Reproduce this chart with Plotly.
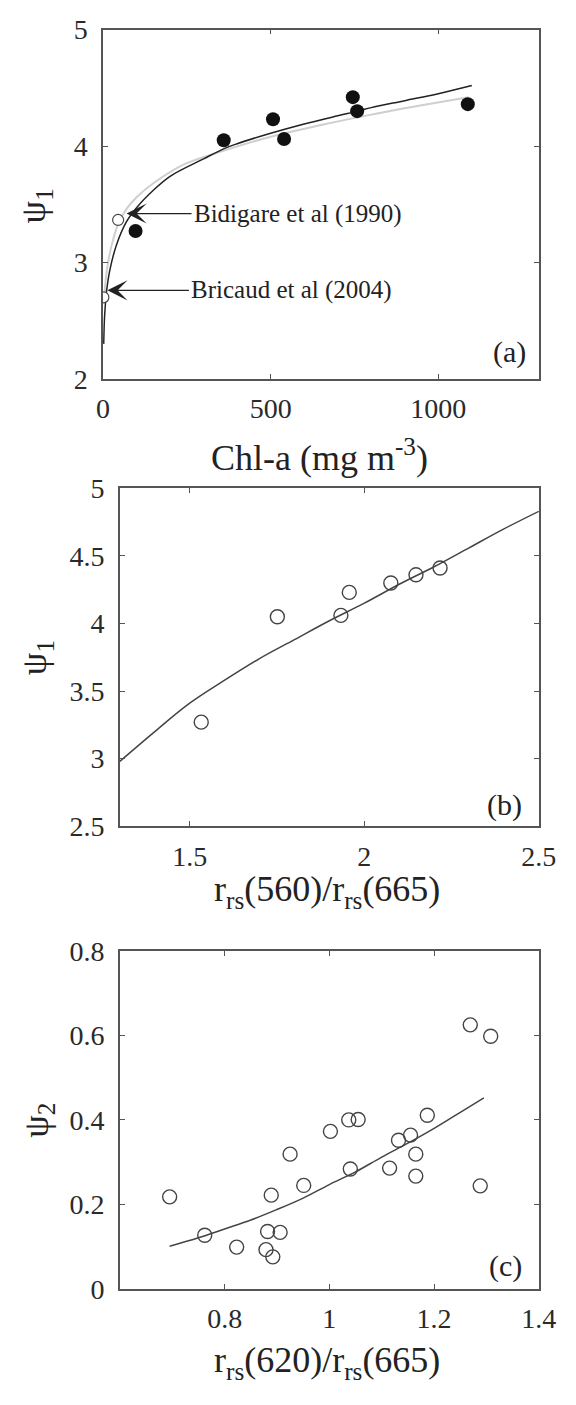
import plotly.graph_objects as go

W, H = 576, 1405
FONT = "Liberation Serif, Times New Roman, serif"

# ---------------- panel (a): psi_1 against Chl-a ----------------
chl_obs = [97, 360, 507, 540, 745, 758, 1088]
psi1_obs = [3.27, 4.05, 4.23, 4.06, 4.42, 4.30, 4.36]

# literature values: Bricaud et al (2004), Bidigare et al (1990)
chl_lit = [1, 45]
psi1_lit = [2.70, 3.365]

# fitted curve (dark) and literature curve (light)
fit_chl = [2, 4, 7, 10, 20, 40, 70, 100, 150, 200, 300, 363, 400, 500, 600,
           700, 760, 800, 900, 1000, 1100]
fit_psi1 = [2.30, 2.50, 2.64, 2.74, 2.93, 3.15, 3.35, 3.47, 3.62, 3.74, 3.89,
            3.98, 4.02, 4.11, 4.19, 4.26, 4.30, 4.33, 4.39, 4.45, 4.52]
lit_curve_chl = [4, 8, 14, 25, 45, 70, 100, 150, 240, 350, 500, 650, 800, 950, 1090]
lit_curve_psi1 = [2.70, 2.85, 2.98, 3.14, 3.33, 3.46, 3.56, 3.68, 3.84, 3.95,
                  4.08, 4.18, 4.27, 4.35, 4.42]

# ---------------- panel (b): psi_1 against r_rs(560)/r_rs(665) ----------------
ratio_560 = [1.533, 1.751, 1.933, 1.957, 2.076, 2.148, 2.217]
psi1_b = [3.27, 4.05, 4.06, 4.23, 4.30, 4.36, 4.41]
fit_ratio_560 = [1.3, 1.4, 1.5, 1.6, 1.7, 1.8, 1.9, 2.0, 2.1, 2.2, 2.3, 2.4, 2.5]
fit_psi1_b = [2.98, 3.20, 3.41, 3.58, 3.74, 3.88, 4.02, 4.15, 4.29, 4.42, 4.56, 4.70, 4.83]

# ---------------- panel (c): psi_2 against r_rs(620)/r_rs(665) ----------------
ratio_620 = [0.695, 0.762, 0.823, 0.882, 0.879, 0.892, 0.906, 0.889, 0.925, 0.951,
             1.002, 1.037, 1.055, 1.040, 1.115, 1.132, 1.155, 1.165, 1.165, 1.187,
             1.269, 1.308, 1.288]
psi2 = [0.218, 0.127, 0.099, 0.136, 0.093, 0.076, 0.134, 0.222, 0.319, 0.245,
        0.373, 0.400, 0.401, 0.284, 0.286, 0.352, 0.364, 0.319, 0.267, 0.411,
        0.625, 0.598, 0.244]
fit_ratio_620 = [0.695, 0.75, 0.8, 0.85, 0.9, 0.95, 1.0, 1.05, 1.1, 1.15, 1.2, 1.25, 1.295]
fit_psi2 = [0.101, 0.121, 0.142, 0.163, 0.188, 0.215, 0.247, 0.277, 0.312, 0.345,
            0.380, 0.418, 0.452]


def px(x):
    return x / W


def py(y):
    return 1 - y / H


LINE = "#555555"
TEXT = "#222222"

fig = go.Figure()

# panel (a)
fig.add_trace(go.Scatter(x=lit_curve_chl, y=lit_curve_psi1, mode="lines",
                         line=dict(color="#cfcfcf", width=2, shape="spline"),
                         xaxis="x", yaxis="y", hoverinfo="skip"))
fig.add_trace(go.Scatter(x=fit_chl, y=fit_psi1, mode="lines",
                         line=dict(color="#222222", width=1.5, shape="spline"),
                         xaxis="x", yaxis="y"))
fig.add_trace(go.Scatter(x=chl_obs, y=psi1_obs, mode="markers",
                         marker=dict(size=14, color="#111111"),
                         xaxis="x", yaxis="y"))
fig.add_trace(go.Scatter(x=chl_lit, y=psi1_lit, mode="markers",
                         marker=dict(size=11, color="white",
                                     line=dict(color="#444444", width=1.2)),
                         xaxis="x", yaxis="y"))

# panel (b)
fig.add_trace(go.Scatter(x=fit_ratio_560, y=fit_psi1_b, mode="lines",
                         line=dict(color="#444444", width=1.5, shape="spline"),
                         xaxis="x2", yaxis="y2"))
fig.add_trace(go.Scatter(x=ratio_560, y=psi1_b, mode="markers",
                         marker=dict(size=14, color="rgba(0,0,0,0)",
                                     line=dict(color="#444444", width=1.4)),
                         xaxis="x2", yaxis="y2"))

# panel (c)
fig.add_trace(go.Scatter(x=fit_ratio_620, y=fit_psi2, mode="lines",
                         line=dict(color="#444444", width=1.5, shape="spline"),
                         xaxis="x3", yaxis="y3"))
fig.add_trace(go.Scatter(x=ratio_620, y=psi2, mode="markers",
                         marker=dict(size=14, color="rgba(0,0,0,0)",
                                     line=dict(color="#444444", width=1.4)),
                         xaxis="x3", yaxis="y3"))

axis_style = dict(showline=True, linecolor=LINE, linewidth=1.5, mirror="ticks",
                  ticks="inside", ticklen=5, tickwidth=1, tickcolor=LINE,
                  showgrid=False, zeroline=False,
                  tickfont=dict(family=FONT, size=28, color="#2a2a2a"))
x_style = dict(axis_style, ticklabelstandoff=4)
y_style = dict(axis_style, ticklabelstandoff=8)

xa_dom = [px(100.4), px(556)]
xb_dom = [px(118), px(556)]

fig.update_layout(
    width=W, height=H,
    margin=dict(l=0, r=0, t=0, b=0),
    paper_bgcolor="white", plot_bgcolor="white",
    showlegend=False,
    xaxis=dict(x_style, domain=xa_dom, range=[0, 1300],
               tickvals=[0, 500, 1000], anchor="y"),
    yaxis=dict(y_style, domain=[py(372), py(15)], range=[2, 5],
               tickvals=[2, 3, 4, 5], anchor="x"),
    xaxis2=dict(x_style, domain=xb_dom, range=[1.3, 2.5],
                tickvals=[1.5, 2, 2.5], anchor="y2"),
    yaxis2=dict(y_style, domain=[py(829.5), py(484)], range=[2.5, 5],
                tickvals=[2.5, 3, 3.5, 4, 4.5, 5], anchor="x2"),
    xaxis3=dict(x_style, domain=xb_dom, range=[0.6, 1.4],
                tickvals=[0.8, 1, 1.2, 1.4], anchor="y3"),
    yaxis3=dict(y_style, domain=[py(1302.7), py(957)], range=[0, 0.8],
                tickvals=[0, 0.2, 0.4, 0.6, 0.8], anchor="x3"),
)

annotations = []


def title(text, x, y, size=36, angle=0):
    annotations.append(dict(text=text, x=px(x), y=py(y), xref="paper", yref="paper",
                            showarrow=False, textangle=angle,
                            font=dict(family=FONT, size=size, color=TEXT),
                            xanchor="center", yanchor="middle"))


# axis titles
title("Chl-a (mg m<sup>-3</sup>)", 327, 450)
title("r<sub>rs</sub>(560)/r<sub>rs</sub>(665)", 335, 896)
title("r<sub>rs</sub>(620)/r<sub>rs</sub>(665)", 335, 1378)
title("ψ<sub>1</sub>", 30, 195, size=36, angle=-90)
title("ψ<sub>1</sub>", 31, 657, size=36, angle=-90)
title("ψ<sub>2</sub>", 32, 1130, size=36, angle=-90)

# panel letters
title("(a)", 525, 345, size=30)
title("(b)", 520, 808, size=30)
title("(c)", 521, 1279, size=30)

# labelled arrows for the literature values
for label, tip_x, tail_x, yv in [("Bidigare et al (1990)", 70, 264, 3.42),
                                  ("Bricaud et al (2004)", 13, 256, 2.76)]:
    annotations.append(dict(text=label, x=tip_x, y=yv, ax=tail_x, ay=yv,
                            xref="x", yref="y", axref="x", ayref="y",
                            showarrow=True, arrowhead=3, arrowsize=2.8,
                            arrowwidth=1.2, arrowcolor="#222222", standoff=0,
                            xanchor="left", yanchor="middle",
                            font=dict(family=FONT, size=25, color=TEXT)))

fig.update_layout(annotations=annotations)

fig.write_html("out.html")
